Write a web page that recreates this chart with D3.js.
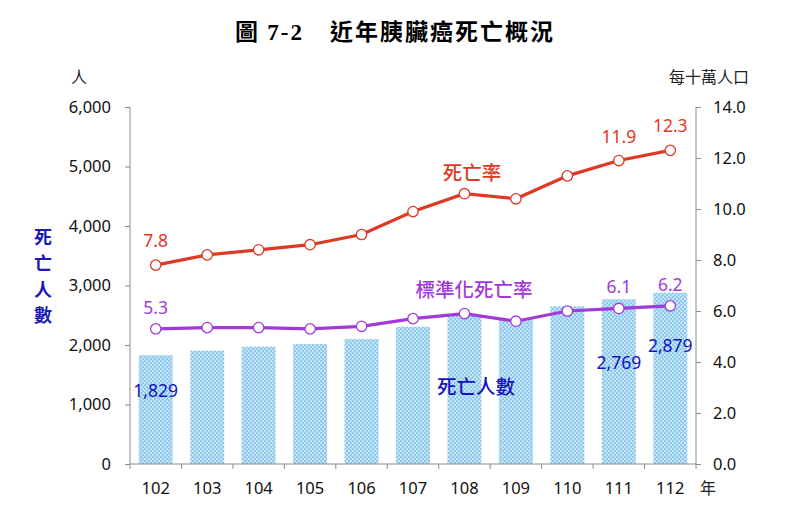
<!DOCTYPE html>
<html lang="zh-Hant">
<head>
<meta charset="UTF-8">
<title>近年胰臟癌死亡概況</title>
<style>
  body { margin: 0; background: #fff; }
  text { font-family: "Noto Sans", "Noto Sans CJK TC", sans-serif; }
</style>
</head>
<body>
<svg width="803" height="513"></svg>
<script src="https://cdn.jsdelivr.net/npm/d3@7"></script>
<script>
// data
const years = ["102", "103", "104", "105", "106", "107", "108", "109", "110", "111", "112"];
const deaths = [1829, 1905, 1971, 2016, 2100, 2307, 2494, 2437, 2649, 2769, 2879];
const deathRate = [7.8, 8.2, 8.4, 8.6, 9.0, 9.9, 10.6, 10.4, 11.3, 11.9, 12.3];
const stdRate = [5.3, 5.35, 5.35, 5.3, 5.4, 5.7, 5.9, 5.6, 6.0, 6.1, 6.2];
const leftTicks = [0, 1000, 2000, 3000, 4000, 5000, 6000];
const rightTicks = [0, 2, 4, 6, 8, 10, 12, 14];

const svg = d3.select("svg");
const pLeft = 130, pRight = 696, pTop = 107, pBottom = 464;

const x = d3.scaleBand().domain(years).range([pLeft, pRight]).paddingInner(0.34).paddingOuter(0.17);
const yL = d3.scaleLinear().domain([0, 6000]).range([pBottom, pTop]);
const yR = d3.scaleLinear().domain([0, 14]).range([pBottom, pTop]);

// bar pattern
const defs = svg.append("defs");
const pat = defs.append("pattern").attr("id", "dots")
  .attr("width", 4).attr("height", 4).attr("patternUnits", "userSpaceOnUse");
pat.append("rect").attr("width", 4).attr("height", 4).attr("fill", "#c2e3f6");
pat.append("circle").attr("cx", 1).attr("cy", 1).attr("r", 0.95).attr("fill", "#78bfe8");
pat.append("circle").attr("cx", 3).attr("cy", 3).attr("r", 0.95).attr("fill", "#78bfe8");

// title
const title = svg.append("text").attr("x", 395).attr("y", 40).attr("text-anchor", "middle")
  .attr("font-size", 23).attr("font-weight", "bold").attr("fill", "#000")
  .attr("letter-spacing", 2);
title.append("tspan").style("font-family", "Noto Sans CJK TC").text("圖 ");
title.append("tspan").style("font-family", "Liberation Serif").text("7-2");
title.append("tspan").attr("dx", 26).style("font-family", "Noto Sans CJK TC").text("近年胰臟癌死亡概況");

// bars
svg.append("g").selectAll("rect").data(deaths).join("rect")
  .attr("x", (d, i) => x(years[i]))
  .attr("y", d => yL(d))
  .attr("width", x.bandwidth())
  .attr("height", d => pBottom - yL(d))
  .attr("fill", "url(#dots)");

// axes
const axisColor = "#8c8c8c";
const gL = svg.append("g").attr("transform", `translate(${pLeft},0)`)
  .call(d3.axisLeft(yL).tickValues(leftTicks).tickSize(5).tickPadding(14).tickFormat(d3.format(",")));
const gR = svg.append("g").attr("transform", `translate(${pRight},0)`)
  .call(d3.axisRight(yR).tickValues(rightTicks).tickSize(5).tickPadding(12).tickFormat(d3.format(".1f")));
[gL, gR].forEach(g => {
  g.select(".domain").attr("stroke", axisColor).attr("d", `M0,${pTop}V${pBottom}`);
  g.selectAll(".tick line").attr("stroke", axisColor);
  g.selectAll(".tick text").attr("font-size", 16.5).attr("fill", "#111")
    .style("font-family", "Noto Sans, sans-serif");
});

const gX = svg.append("g").attr("transform", `translate(0,${pBottom})`);
gX.append("line").attr("x1", pLeft).attr("x2", pRight).attr("stroke", axisColor);
gX.selectAll("line.t").data(d3.range(years.length + 1)).join("line").attr("class", "t")
  .attr("x1", i => pLeft + i * (pRight - pLeft) / years.length)
  .attr("x2", i => pLeft + i * (pRight - pLeft) / years.length)
  .attr("y1", 0).attr("y2", 5).attr("stroke", axisColor);
gX.selectAll("text").data(years).join("text")
  .attr("x", d => x(d) + x.bandwidth() / 2).attr("y", 30)
  .attr("text-anchor", "middle").attr("font-size", 16.5).attr("fill", "#111").text(d => d);

// unit labels
svg.append("text").attr("x", 79).attr("y", 83).attr("text-anchor", "middle")
  .attr("font-size", 16).attr("fill", "#222").style("font-family", "Noto Sans CJK TC").text("人");
svg.append("text").attr("x", 709).attr("y", 83).attr("text-anchor", "middle")
  .attr("font-size", 16).attr("fill", "#222").style("font-family", "Noto Sans CJK TC").text("每十萬人口");
svg.append("text").attr("x", 708).attr("y", 494).attr("text-anchor", "middle")
  .attr("font-size", 16).attr("fill", "#222").style("font-family", "Noto Sans CJK TC").text("年");
svg.append("g").selectAll("text").data(["死", "亡", "人", "數"]).join("text")
  .attr("x", 43).attr("y", (d, i) => 244 + i * 26).attr("text-anchor", "middle")
  .attr("font-size", 18).attr("font-weight", "bold").attr("fill", "#1a1ab8")
  .style("font-family", "Noto Sans CJK TC").text(d => d);

// lines
const cx = (d, i) => x(years[i]) + x.bandwidth() / 2;
function drawLine(vals, color) {
  const line = d3.line().x(cx).y(d => yR(d));
  svg.append("path").datum(vals).attr("d", line)
    .attr("fill", "none").attr("stroke", color).attr("stroke-width", 3.2);
  svg.append("g").selectAll("circle").data(vals).join("circle")
    .attr("cx", cx).attr("cy", d => yR(d)).attr("r", 5.2)
    .attr("fill", "#fff").attr("stroke", color).attr("stroke-width", 1.3);
}
const red = "#dd3a26", purple = "#a23ad8", blue = "#1414c0";
drawLine(deathRate, red);
drawLine(stdRate, purple);

// value labels
function label(i, txt, dy, color, yv) {
  svg.append("text").attr("x", cx(null, i)).attr("y", yv + dy).attr("text-anchor", "middle")
    .attr("font-size", 17.5).attr("fill", color).text(txt);
}
[0, 9, 10].forEach(i => label(i, d3.format(".1f")(deathRate[i]), -18, red, yR(deathRate[i])));
[0, 9, 10].forEach(i => label(i, d3.format(".1f")(stdRate[i]), -15, purple, yR(stdRate[i])));
label(0, d3.format(",")(deaths[0]), 42, blue, yL(deaths[0]));
label(9, d3.format(",")(deaths[9]), 70, blue, yL(deaths[9]));
label(10, d3.format(",")(deaths[10]), 59, blue, yL(deaths[10]));

// series names
function seriesName(txt, xp, yp, color) {
  svg.append("text").attr("x", xp).attr("y", yp).attr("text-anchor", "middle")
    .attr("font-size", 19.5).attr("font-weight", 500).attr("fill", color)
    .style("font-family", "Noto Sans CJK TC").text(txt);
}
seriesName("死亡率", 472, 180, red);
seriesName("標準化死亡率", 474, 297, purple);
seriesName("死亡人數", 476, 394, blue);
</script>
</body>
</html>
